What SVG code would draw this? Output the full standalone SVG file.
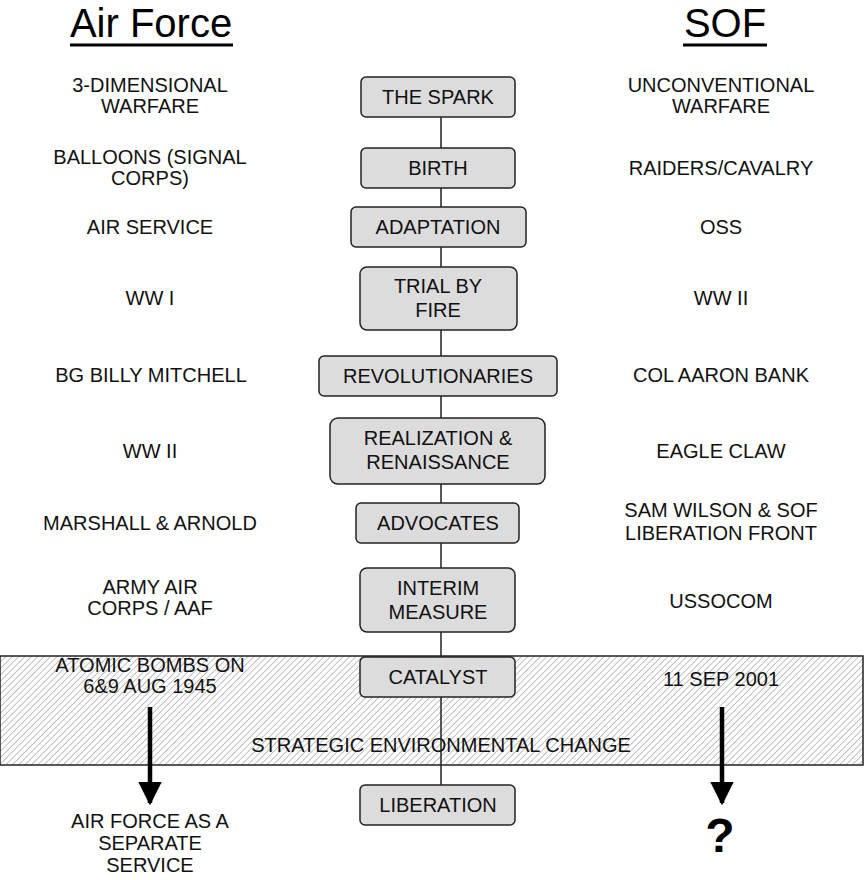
<svg xmlns="http://www.w3.org/2000/svg" width="865" height="880" viewBox="0 0 865 880">
<defs>
<pattern id="hatch" patternUnits="userSpaceOnUse" width="4.5" height="4.5" patternTransform="rotate(45)">
<rect width="4.5" height="4.5" fill="#ffffff"/>
<line x1="0" y1="0" x2="0" y2="4.5" stroke="#8c8c8c" stroke-width="1.1"/>
</pattern>
<marker id="arr" viewBox="0 0 10 10" refX="9" refY="5" markerWidth="5.2" markerHeight="5.2" orient="auto" markerUnits="strokeWidth">
<path d="M0,0 L10,5 L0,10 z" fill="#000"/>
</marker>
</defs>
<style>
.box{fill:#dcdcdc;stroke:#222;stroke-width:1.5}
.t{font-family:"Liberation Sans",Arial,sans-serif;font-size:20px;fill:#111;text-anchor:middle}
.h{font-family:"Liberation Sans",Arial,sans-serif;font-size:40px;fill:#000;text-anchor:middle}
.line{stroke:#222;stroke-width:1.5;fill:none}
</style>
<rect width="865" height="880" fill="#fff"/>
<g id="band">
<rect x="0" y="656" width="863" height="109" fill="url(#hatch)" stroke="#222" stroke-width="1.5"/>
<text class="t" x="441" y="752">STRATEGIC ENVIRONMENTAL CHANGE</text>
</g>
<g id="connectors">
<line class="line" x1="441" y1="117" x2="441" y2="785"/>
<line x1="150" y1="707" x2="150" y2="803" stroke="#000" stroke-width="4.5" marker-end="url(#arr)"/>
<line x1="722" y1="707" x2="722" y2="803" stroke="#000" stroke-width="4.5" marker-end="url(#arr)"/>
</g>
<g id="titles">
<text class="h" x="151" y="37">Air Force</text>
<line x1="70" y1="45" x2="233" y2="45" stroke="#000" stroke-width="3"/>
<text class="h" x="725" y="37">SOF</text>
<line x1="683" y1="45" x2="767" y2="45" stroke="#000" stroke-width="3"/>
</g>
<g id="n-spark"><rect class="box" x="361" y="77" width="154" height="40" rx="5"/><text class="t" x="438" y="104">THE SPARK</text></g>
<g id="n-birth"><rect class="box" x="361" y="148" width="154" height="40" rx="5"/><text class="t" x="438" y="175">BIRTH</text></g>
<g id="n-adapt"><rect class="box" x="351" y="207" width="175" height="40" rx="5"/><text class="t" x="438" y="234">ADAPTATION</text></g>
<g id="n-trial"><rect class="box" x="360" y="267" width="157" height="63" rx="7"/><text class="t" x="438" y="293">TRIAL BY</text><text class="t" x="438" y="317">FIRE</text></g>
<g id="n-rev"><rect class="box" x="319" y="356" width="238" height="40" rx="5"/><text class="t" x="438" y="383">REVOLUTIONARIES</text></g>
<g id="n-real"><rect class="box" x="330" y="418" width="215" height="66" rx="8"/><text class="t" x="438" y="445">REALIZATION &amp;</text><text class="t" x="438" y="469">RENAISSANCE</text></g>
<g id="n-adv"><rect class="box" x="356" y="503" width="163" height="40" rx="5"/><text class="t" x="438" y="530">ADVOCATES</text></g>
<g id="n-interim"><rect class="box" x="360" y="568" width="155" height="64" rx="7"/><text class="t" x="438" y="595">INTERIM</text><text class="t" x="438" y="619">MEASURE</text></g>
<g id="n-cat"><rect class="box" x="360" y="657" width="155" height="40" rx="5"/><text class="t" x="438" y="684">CATALYST</text></g>
<g id="n-lib"><rect class="box" x="360" y="785" width="155" height="40" rx="5"/><text class="t" x="438" y="812">LIBERATION</text></g>
<g id="left">
<text class="t" x="150" y="92">3-DIMENSIONAL</text><text class="t" x="150" y="113">WARFARE</text>
<text class="t" x="150" y="164">BALLOONS (SIGNAL</text><text class="t" x="150" y="185">CORPS)</text>
<text class="t" x="150" y="234">AIR SERVICE</text>
<text class="t" x="150" y="305">WW I</text>
<text class="t" x="151" y="382">BG BILLY MITCHELL</text>
<text class="t" x="150" y="458">WW II</text>
<text class="t" x="150" y="530">MARSHALL &amp; ARNOLD</text>
<text class="t" x="150" y="594">ARMY AIR</text><text class="t" x="150" y="615">CORPS / AAF</text>
<text class="t" x="150" y="672">ATOMIC BOMBS ON</text><text class="t" x="150" y="693">6&amp;9 AUG 1945</text>
<text class="t" x="150" y="828">AIR FORCE AS A</text><text class="t" x="150" y="850">SEPARATE</text><text class="t" x="150" y="872">SERVICE</text>
</g>
<g id="right">
<text class="t" x="721" y="92">UNCONVENTIONAL</text><text class="t" x="721" y="113">WARFARE</text>
<text class="t" x="721" y="175">RAIDERS/CAVALRY</text>
<text class="t" x="721" y="234">OSS</text>
<text class="t" x="721" y="305">WW II</text>
<text class="t" x="721" y="382">COL AARON BANK</text>
<text class="t" x="721" y="458">EAGLE CLAW</text>
<text class="t" x="721" y="517">SAM WILSON &amp; SOF</text><text class="t" x="721" y="540">LIBERATION FRONT</text>
<text class="t" x="721" y="608">USSOCOM</text>
<text class="t" x="721" y="686">11 SEP 2001</text>
<text x="720" y="852" font-family="Liberation Sans,Arial,sans-serif" font-size="48" font-weight="bold" text-anchor="middle" fill="#000">?</text>
</g>
</svg>
